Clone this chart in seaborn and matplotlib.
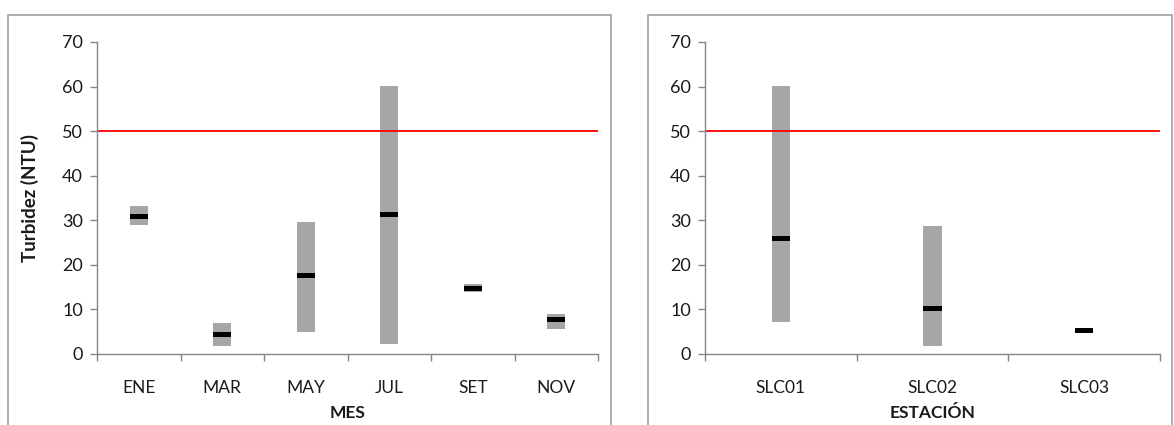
import matplotlib.pyplot as plt
import seaborn as sns
import pandas as pd
import numpy as np
from matplotlib.patches import Rectangle

# datos (min, max y mediana de turbidez)
meses = ["ENE", "MAR", "MAY", "JUL", "SET", "NOV"]
mes_min = [29.0, 1.8, 5.0, 2.2, 13.8, 5.5]
mes_max = [33.1, 7.0, 29.7, 60.2, 15.7, 9.0]
mes_med = [30.8, 4.4, 17.6, 31.2, 14.7, 7.8]

estaciones = ["SLC01", "SLC02", "SLC03"]
est_min = [7.1, 1.9, 5.0]
est_max = [60.2, 28.8, 5.4]
est_med = [25.9, 10.2, 5.2]

limite = 50
y_ticks = [0, 10, 20, 30, 40, 50, 60, 70]

sns.set_theme(style="white")
plt.rcParams['font.family'] = ['Lato', 'DejaVu Sans']

W, H = 1174, 425
fig = plt.figure(figsize=(W / 100, H / 100), dpi=100)

gris_eje = "#868686"
texto = "#1a1a1a"


def panel(ax, cats, mins, maxs, meds, ancho, xlabel):
    df = pd.DataFrame({"cat": cats, "min": mins, "max": maxs, "med": meds})
    df["rango"] = df["max"] - df["min"]
    df["grosor"] = 1.1
    sns.barplot(data=df, x="cat", y="rango", bottom=df["min"].values, width=ancho,
                color="#a6a6a6", saturation=1, errorbar=None, linewidth=0, ax=ax)
    sns.barplot(data=df, x="cat", y="grosor", bottom=(df["med"] - 0.55).values, width=ancho,
                color="black", saturation=1, errorbar=None, linewidth=0, ax=ax)
    ax.axhline(limite, color="red", lw=1.3)

    n = len(cats)
    ax.set_xlim(-0.5, n - 0.5)
    ax.set_ylim(0, 70)
    ax.set_yticks(y_ticks)
    ax.set_xticks(np.arange(-0.5, n), minor=True)
    ax.tick_params(axis="x", which="major", length=0, pad=19, labelsize=12.5, labelcolor=texto)
    ax.tick_params(axis="x", which="minor", length=5, width=1, color=gris_eje, bottom=True)
    ax.tick_params(axis="y", length=5, width=1, color=gris_eje, left=True, pad=5,
                   labelsize=13, labelcolor=texto)
    for s in ["top", "right"]:
        ax.spines[s].set_visible(False)
    for s in ["left", "bottom"]:
        ax.spines[s].set_color(gris_eje)
        ax.spines[s].set_linewidth(1)
    ax.set_xlabel(xlabel, fontsize=12.5, fontweight="bold", color=texto, labelpad=6)
    ax.set_ylabel("")


ax1 = fig.add_axes([97 / W, 1 - 354 / H, (598 - 97) / W, (354 - 42) / H])
panel(ax1, meses, mes_min, mes_max, mes_med, 0.22, "MES")
ax1.set_ylabel("Turbidez (NTU)", fontsize=13.5, fontweight="bold", color=texto)
ax1.yaxis.set_label_coords(-0.115, 0.5)

ax2 = fig.add_axes([705 / W, 1 - 354 / H, (1160 - 705) / W, (354 - 42) / H])
panel(ax2, estaciones, est_min, est_max, est_med, 0.12, "ESTACIÓN")

# marcos de cada grafico, estilo Excel
fig.add_artist(Rectangle((8 / W, -0.1), (611 - 8) / W, 1.1 - 15 / H, transform=fig.transFigure,
                         fill=False, edgecolor="#a0a0a0", lw=1.2))
fig.add_artist(Rectangle((648 / W, -0.1), (1172 - 648) / W, 1.1 - 15 / H, transform=fig.transFigure,
                         fill=False, edgecolor="#a0a0a0", lw=1.2))

fig.savefig("out.png", dpi=100, facecolor="white")
